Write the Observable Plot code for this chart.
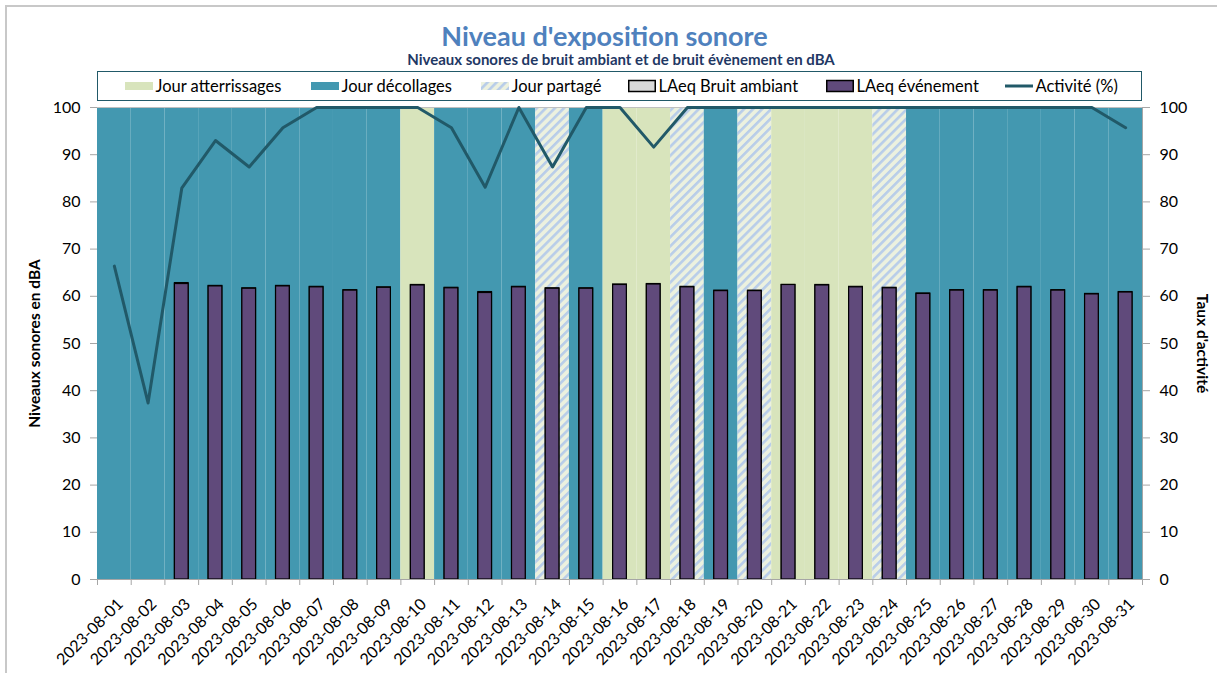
<!DOCTYPE html>
<html>
<head>
<meta charset="utf-8">
<script src="https://cdn.jsdelivr.net/npm/d3@7"></script>
<script src="https://cdn.jsdelivr.net/npm/@observablehq/plot@0.6"></script>
<style>
  body { margin: 0; background: #fff; font-family: Lato, "Open Sans", sans-serif; }
  #wrap { position: relative; width: 1217px; height: 673px; overflow: hidden; }
  #frame { position: absolute; left: 5px; top: 5px; width: 1240px; height: 700px; border: 2px solid #c8c8c8; }
  .t { position: absolute; left: 0; text-align: center; white-space: nowrap; }
  #title { top: 20px; width: 1209px; font-size: 27px; font-weight: bold; color: #4F81BD; line-height: 32px; }
  #subtitle { top: 50px; width: 1242px; font-size: 15px; font-weight: bold; color: #1F3864; line-height: 18px; }
  #legend { position: absolute; left: 97px; top: 71px; width: 1045px; height: 30px; box-sizing: border-box; border: 1.5px solid #215968; background: #fff; }
  .li { position: absolute; top: 0; height: 27px; display: flex; align-items: center; font-size: 16.5px; color: #000; white-space: nowrap; }
  .li svg { margin-right: 3px; }
  #chart { position: absolute; left: 0; top: 100px; }
</style>
</head>
<body>
<div id="wrap">
  <div id="frame"></div>
  <div id="title" class="t">Niveau d'exposition sonore</div>
  <div id="subtitle" class="t">Niveaux sonores de bruit ambiant et de bruit évènement en dBA</div>
  <div id="legend"></div>
  <div id="chart"></div>
</div>
<script>
// ---- data ----
const dates = ["2023-08-01","2023-08-02","2023-08-03","2023-08-04","2023-08-05","2023-08-06","2023-08-07","2023-08-08","2023-08-09","2023-08-10",
  "2023-08-11","2023-08-12","2023-08-13","2023-08-14","2023-08-15","2023-08-16","2023-08-17","2023-08-18","2023-08-19","2023-08-20",
  "2023-08-21","2023-08-22","2023-08-23","2023-08-24","2023-08-25","2023-08-26","2023-08-27","2023-08-28","2023-08-29","2023-08-30","2023-08-31"];
// D = Jour décollages, A = Jour atterrissages, P = Jour partagé
const dayType = ["D","D","D","D","D","D","D","D","D","A",
  "D","D","D","P","D","A","A","P","D","P",
  "A","A","A","P","D","D","D","D","D","D","D"];
const laeqAmbiant = [null,null,62.8,62.2,61.7,62.2,62.0,61.3,61.9,62.4,
  61.8,60.9,62.0,61.7,61.7,62.5,62.6,62.0,61.2,61.2,
  62.4,62.4,62.0,61.8,60.6,61.3,61.3,62.0,61.3,60.5,60.9];
const laeqEvenement = [null,null,62.6,62.1,61.6,62.1,61.9,61.2,61.8,62.3,
  61.7,60.7,61.9,61.6,61.6,62.4,62.5,61.9,61.1,61.1,
  62.4,62.3,61.9,61.7,60.5,61.2,61.2,61.9,61.2,60.4,60.8];
const activite = [66.4,37.4,82.9,93.0,87.4,95.7,100,100,100,100,
  95.7,83.1,100,87.4,100,100,91.6,100,100,100,
  100,100,100,100,100,100,100,100,100,100,95.7];
const yTicks = [0,10,20,30,40,50,60,70,80,90,100];

const typeFill = {D: "#4398B0", A: "#D8E4BC", P: "url(#hatch)"};
const days = dates.map((d, i) => ({i, date: d, type: dayType[i], amb: laeqAmbiant[i], evt: laeqEvenement[i], act: activite[i]}));
const withBars = days.filter(d => d.evt != null);

const gray = "#a6a6a6";
const svg = Plot.plot({
  width: 1217, height: 573,
  marginTop: 7, marginBottom: 94, marginLeft: 97, marginRight: 75,
  x: {domain: [0, dates.length], axis: null},
  y: {domain: [0, 100], axis: null},
  color: {type: "identity"},
  style: {fontFamily: "Lato, 'Open Sans', sans-serif", fontSize: "16px", color: "#000", background: "transparent", overflow: "visible"},
  marks: [
    Plot.rectY(days, {x1: "i", x2: d => d.i + 1, y1: 0, y2: 100, fill: d => typeFill[d.type]}),
    Plot.ruleY([100], {stroke: "#bfbfbf", strokeWidth: 1}),
    Plot.rectY(withBars, {x1: "i", x2: d => d.i + 1, y1: 0, y2: "amb", insetLeft: 10, insetRight: 10, fill: "#D9D9D9", stroke: "#000", strokeWidth: 1.2}),
    Plot.rectY(withBars, {x1: "i", x2: d => d.i + 1, y1: 0, y2: "evt", insetLeft: 10, insetRight: 10, fill: "#604A7B", stroke: "#000", strokeWidth: 1.2}),
    Plot.line(days, {x: d => d.i + 0.5, y: "act", stroke: "#215968", strokeWidth: 3, strokeLinejoin: "round"}),
    Plot.ruleY([0], {stroke: gray}),
    Plot.ruleX([dates.length], {y1: 0, y2: 100, stroke: gray}),
    Plot.axisY({anchor: "left", ticks: yTicks, tickSize: 7, tickPadding: 10, stroke: gray, fill: "#000", fontSize: 16, label: null}),
    Plot.axisY({anchor: "right", ticks: yTicks, tickSize: 7, tickPadding: 10, stroke: gray, fill: "#000", fontSize: 16, label: null}),
    Plot.axisX({ticks: d3.range(dates.length + 1), tickSize: 6, tickFormat: () => "", stroke: gray, label: null}),
    Plot.axisX({ticks: dates.map((d, i) => i + 0.5), tickFormat: v => dates[Math.floor(v)], tickRotate: -45, tickSize: 0, tickPadding: 22, dx: 6, fontSize: 16, fill: "#000", label: null}),
    Plot.text(["Niveaux sonores en dBA"], {text: d => d, frameAnchor: "left", textAnchor: "middle", dx: -62, rotate: -90, fontWeight: "bold", fontSize: 15.5, fill: "#000"}),
    Plot.text(["Taux d'activité"], {text: d => d, frameAnchor: "right", textAnchor: "middle", dx: 59, rotate: 90, fontWeight: "bold", fontSize: 15.5, fill: "#000"})
  ]
});

const ns = "http://www.w3.org/2000/svg";
const defs = document.createElementNS(ns, "defs");
defs.innerHTML = '<pattern id="hatch" width="6.4" height="6.4" patternUnits="userSpaceOnUse" patternTransform="rotate(45)">' +
  '<rect width="6.4" height="6.4" fill="#ECF1DF"/><rect width="2.6" height="6.4" fill="#B8CDE9"/></pattern>';
svg.insertBefore(defs, svg.firstChild);
document.getElementById("chart").appendChild(svg);

// ---- legend ----
const legendItems = [
  {label: "Jour atterrissages", left: 125, sw: '<rect x="0" y="4" width="28" height="8" fill="#D8E4BC"/>'},
  {label: "Jour décollages", left: 311, sw: '<rect x="0" y="4" width="28" height="8" fill="#4398B0"/>'},
  {label: "Jour partagé", left: 481, sw: '<defs><pattern id="hatchL" width="6.4" height="6.4" patternUnits="userSpaceOnUse" patternTransform="rotate(45)"><rect width="6.4" height="6.4" fill="#ECF1DF"/><rect width="2.6" height="6.4" fill="#B8CDE9"/></pattern></defs><rect x="0" y="4" width="28" height="8" fill="url(#hatchL)"/>'},
  {label: "LAeq Bruit ambiant", left: 628, sw: '<rect x="0.75" y="2.5" width="26.5" height="11" fill="#D9D9D9" stroke="#000" stroke-width="1.5"/>'},
  {label: "LAeq événement", left: 826, sw: '<rect x="0.75" y="2.5" width="26.5" height="11" fill="#604A7B" stroke="#000" stroke-width="1.5"/>'},
  {label: "Activité (%)", left: 1005, sw: '<line x1="0" x2="28" y1="8" y2="8" stroke="#215968" stroke-width="3"/>'}
];
const leg = document.getElementById("legend");
for (const it of legendItems) {
  const el = document.createElement("div");
  el.className = "li";
  el.style.left = (it.left - 98.5) + "px";
  el.innerHTML = '<svg width="28" height="16" viewBox="0 0 28 16">' + it.sw + '</svg><span>' + it.label + '</span>';
  leg.appendChild(el);
}
</script>
</body>
</html>
